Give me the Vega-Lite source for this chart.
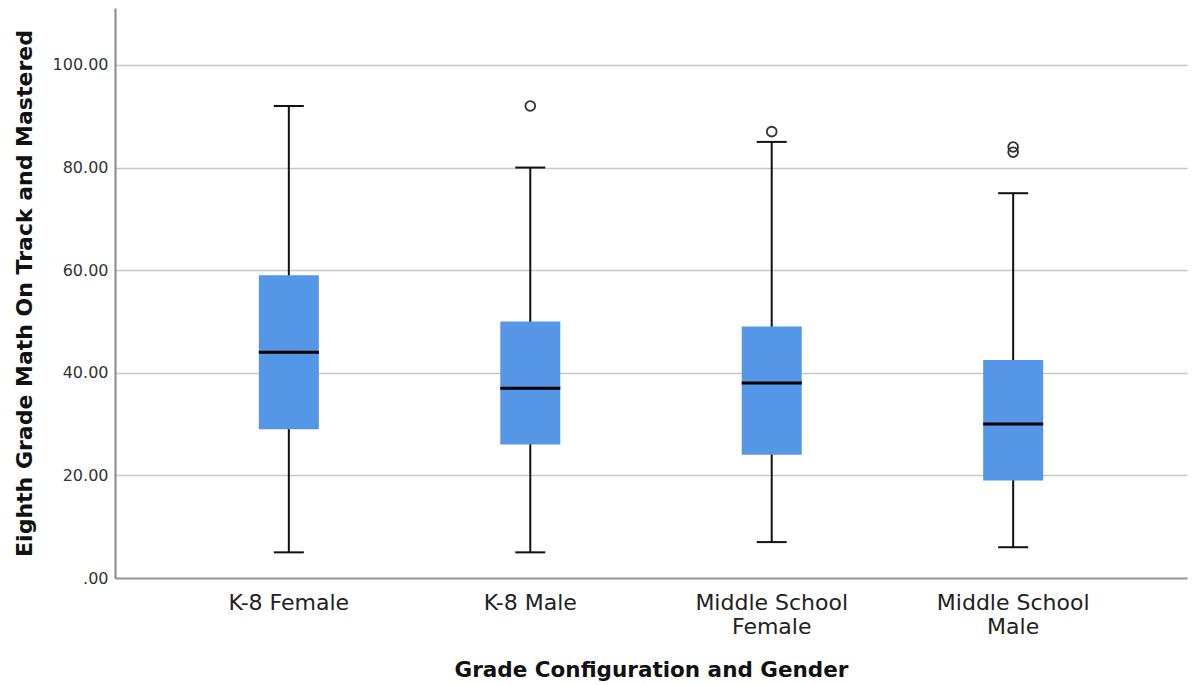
{
  "$schema": "https://vega.github.io/schema/vega-lite/v6.json",
  "width": 1072,
  "height": 570,
  "autosize": "none",
  "padding": {"left": 115, "top": 8, "right": 8, "bottom": 107},
  "background": "white",
  "config": {
    "view": {"stroke": null},
    "font": "DejaVu Sans"
  },
  "datasets": {
    "boxes": [
      {"group": "K-8 Female", "lower": 5, "q1": 29, "median": 44, "q3": 59, "upper": 92},
      {"group": "K-8 Male", "lower": 5, "q1": 26, "median": 37, "q3": 50, "upper": 80},
      {"group": "Middle School Female", "lower": 7, "q1": 24, "median": 38, "q3": 49, "upper": 85},
      {"group": "Middle School Male", "lower": 6, "q1": 19, "median": 30, "q3": 42.5, "upper": 75}
    ],
    "outliers": [
      {"group": "K-8 Male", "value": 92},
      {"group": "Middle School Female", "value": 87},
      {"group": "Middle School Male", "value": 84},
      {"group": "Middle School Male", "value": 83}
    ]
  },
  "encoding": {
    "x": {
      "field": "group",
      "type": "nominal",
      "sort": ["K-8 Female", "K-8 Male", "Middle School Female", "Middle School Male"],
      "scale": {"paddingInner": 0, "paddingOuter": 0.22},
      "axis": {
        "title": "Grade Configuration and Gender",
        "titleFont": "DejaVu Sans",
        "titleFontSize": 21.5,
        "titleFontWeight": "bold",
        "titleColor": "#111",
        "titlePadding": 22,
        "labelAngle": 0,
        "labelFont": "DejaVu Sans",
        "labelFontSize": 22,
        "labelColor": "#222",
        "labelPadding": 14,
        "labelLineHeight": 24,
        "labelExpr": "indexof(datum.label, 'Middle School ') == 0 ? ['Middle School', substring(datum.label, 14)] : datum.label",
        "ticks": false,
        "domainColor": "#999",
        "domainWidth": 2,
        "grid": false
      }
    }
  },
  "layer": [
    {
      "data": {"name": "boxes"},
      "mark": {"type": "rule", "color": "#111", "strokeWidth": 2},
      "encoding": {
        "y": {
          "field": "lower",
          "type": "quantitative",
          "scale": {"domain": [0, 111.1], "nice": false},
          "axis": {
            "title": "Eighth Grade Math On Track and Mastered",
            "titleFont": "DejaVu Sans",
            "titleFontSize": 22,
            "titleFontWeight": "bold",
            "titleColor": "#111",
            "titlePadding": 16,
            "values": [0, 20, 40, 60, 80, 100],
            "labelExpr": "datum.value == 0 ? '.00' : format(datum.value, '.2f')",
            "labelFont": "DejaVu Sans",
            "labelFontSize": 16,
            "labelColor": "#333",
            "labelPadding": 7,
            "ticks": false,
            "grid": true,
            "gridColor": "#c8c8c8",
            "gridWidth": 1.5,
            "domainColor": "#888",
            "domainWidth": 2
          }
        },
        "y2": {"field": "upper"}
      }
    },
    {
      "data": {"name": "boxes"},
      "mark": {"type": "bar", "size": 60, "color": "#5596e6", "opacity": 1},
      "encoding": {
        "y": {"field": "q1", "type": "quantitative"},
        "y2": {"field": "q3"}
      }
    },
    {
      "data": {"name": "boxes"},
      "mark": {"type": "tick", "size": 60, "thickness": 3, "color": "#000", "opacity": 1},
      "encoding": {
        "y": {"field": "median", "type": "quantitative"}
      }
    },
    {
      "data": {"name": "boxes"},
      "mark": {"type": "tick", "size": 30, "thickness": 2, "color": "#111", "opacity": 1},
      "encoding": {
        "y": {"field": "lower", "type": "quantitative"}
      }
    },
    {
      "data": {"name": "boxes"},
      "mark": {"type": "tick", "size": 30, "thickness": 2, "color": "#111", "opacity": 1},
      "encoding": {
        "y": {"field": "upper", "type": "quantitative"}
      }
    },
    {
      "data": {"name": "outliers"},
      "mark": {"type": "point", "shape": "circle", "size": 95, "filled": false, "stroke": "#333", "strokeWidth": 1.8, "opacity": 1},
      "encoding": {
        "y": {"field": "value", "type": "quantitative"}
      }
    }
  ]
}
